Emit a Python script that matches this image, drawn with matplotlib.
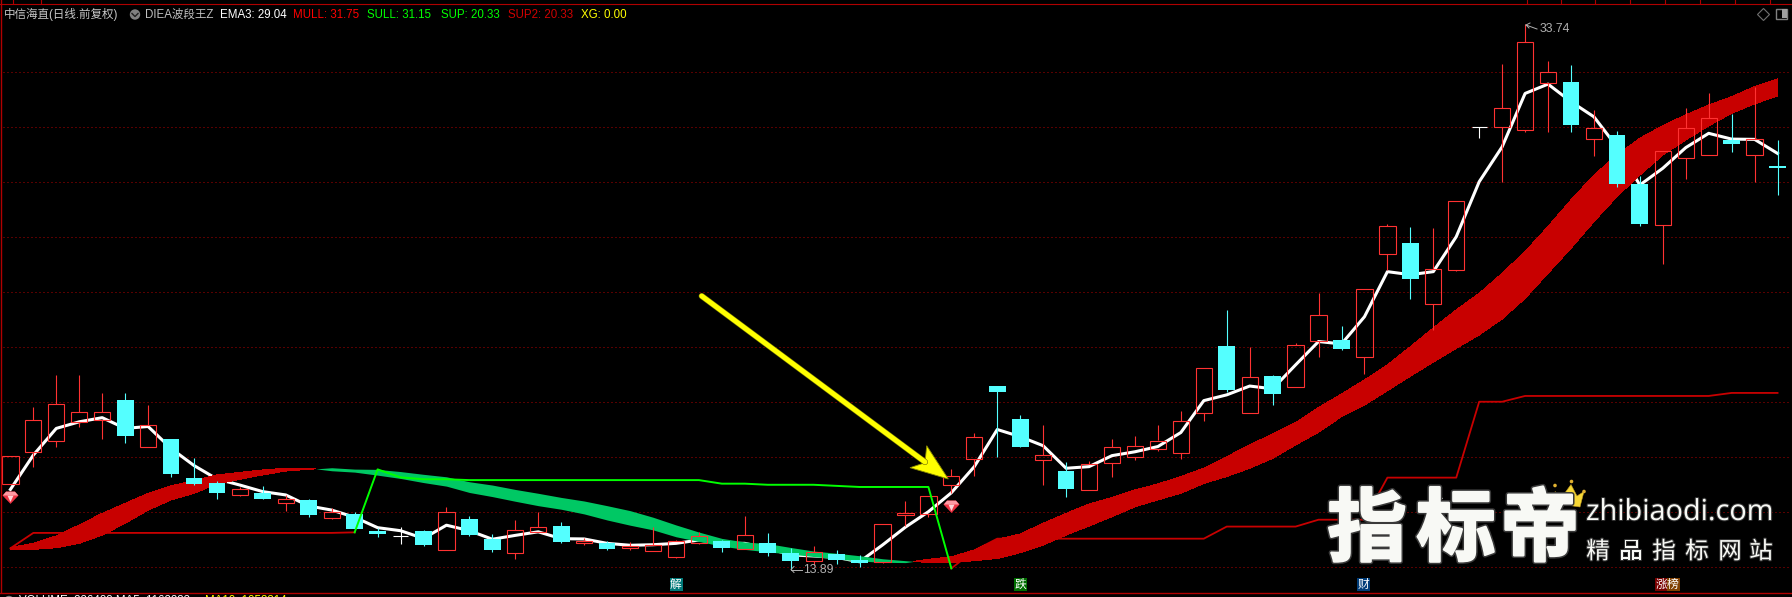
import matplotlib
matplotlib.use("Agg")
import matplotlib.pyplot as plt
import matplotlib.patheffects as pe
from matplotlib.path import Path
from matplotlib.patches import Polygon, Circle, Rectangle

plt.rcParams["font.family"] = ["Liberation Sans", "Noto Sans CJK SC", "DejaVu Sans"]

opens = [17.01, 18.17, 18.59, 19.26, 19.33, 20.07, 18.38, 18.65, 17.24, 17.05,
         16.63, 16.69, 16.31, 16.44, 15.79, 15.93, 15.31, 15.14, 15.31, 14.63,
         15.75, 15.02, 14.52, 15.28, 15.49, 14.87, 14.87, 14.69, 14.59, 14.38,
         14.88, 14.95, 14.67, 14.87, 14.51, 14.23, 14.47, 14.25, 14.19, 15.89,
         15.92, 16.97, 17.91, 20.58, 19.38, 17.90, 17.49, 16.81, 17.77, 18.01,
         18.28, 18.16, 19.59, 22.04, 19.59, 20.95, 20.56, 22.23, 22.26, 21.65,
         25.39, 25.78, 23.57, 24.81, 30.01, 29.99, 29.88, 31.61, 31.64, 29.58,
         29.71, 27.93, 26.45, 28.88, 28.99, 29.53, 28.99, 28.58]
closes = [18.05, 19.33, 19.92, 19.62, 19.62, 18.76, 19.15, 17.38, 17.02, 16.69,
          16.82, 16.47, 16.46, 15.89, 15.99, 15.38, 15.20, 15.14, 14.80, 15.99,
          15.16, 14.62, 15.33, 15.47, 14.91, 14.95, 14.65, 14.76, 14.79, 14.93,
          15.11, 14.69, 15.15, 14.51, 14.22, 14.53, 14.25, 14.15, 15.55, 15.96,
          16.57, 17.30, 18.71, 20.36, 18.36, 18.06, 16.84, 17.73, 18.35, 18.39,
          18.60, 19.30, 21.22, 20.44, 20.90, 20.29, 22.06, 23.15, 21.93, 24.10,
          26.39, 24.47, 24.82, 27.30, 30.01, 30.68, 33.08, 31.99, 30.07, 29.95,
          27.93, 26.47, 29.12, 29.95, 30.31, 29.38, 29.55, 28.52]
highs = [18.05, 19.82, 20.98, 20.98, 20.33, 20.33, 19.89, 18.65, 17.96, 17.13,
         16.92, 16.95, 16.62, 16.47, 16.15, 16.01, 15.42, 15.44, 15.35, 16.18,
         15.85, 15.20, 15.71, 16.01, 15.64, 15.04, 14.95, 14.91, 15.44, 14.98,
         15.28, 14.98, 15.85, 15.24, 14.69, 14.76, 14.62, 14.44, 15.55, 16.40,
         16.57, 17.56, 18.86, 20.58, 19.53, 19.16, 17.82, 17.84, 18.65, 18.76,
         19.16, 19.67, 21.22, 23.35, 22.00, 20.98, 22.13, 23.96, 22.76, 24.10,
         26.47, 26.35, 26.33, 27.30, 30.01, 32.29, 33.74, 32.40, 32.25, 30.62,
         29.85, 28.22, 29.12, 30.69, 31.24, 30.47, 31.47, 29.53]
lows = [17.01, 17.65, 18.36, 19.10, 18.67, 18.52, 18.38, 17.29, 16.98, 16.48,
        16.58, 16.47, 16.05, 15.83, 15.75, 15.38, 15.10, 14.84, 14.76, 14.63,
        15.13, 14.54, 14.30, 15.28, 14.87, 14.80, 14.62, 14.62, 14.59, 14.34,
        14.84, 14.55, 14.67, 14.40, 13.89, 14.07, 14.11, 14.00, 14.15, 15.49,
        15.81, 16.68, 17.32, 18.01, 18.36, 17.00, 16.55, 16.81, 17.27, 17.89,
        18.23, 17.93, 19.31, 20.36, 19.59, 19.89, 20.56, 21.65, 21.89, 21.02,
        24.80, 23.76, 22.62, 24.76, 29.61, 27.99, 29.83, 29.83, 29.83, 28.96,
        27.83, 26.40, 25.02, 28.11, 28.99, 29.09, 28.00, 27.53]
ema3 = [16.82, 18.07, 19.04, 19.28, 19.43, 19.04, 19.11, 18.31, 17.69, 17.20,
        16.98, 16.74, 16.62, 16.22, 16.07, 15.81, 15.43, 15.32, 15.04, 15.52,
        15.32, 15.01, 15.15, 15.28, 15.03, 15.02, 14.86, 14.79, 14.81, 14.86,
        14.98, 14.86, 14.86, 14.68, 14.44, 14.40, 14.35, 14.19, 14.80, 15.45,
        16.01, 16.70, 17.65, 19.00, 18.74, 18.41, 17.59, 17.65, 18.05, 18.19,
        18.38, 18.89, 20.05, 20.26, 20.58, 20.48, 21.35, 22.20, 22.11, 23.10,
        24.74, 24.63, 24.74, 26.01, 28.01, 29.28, 31.22, 31.56, 30.92, 30.37,
        29.28, 27.89, 28.50, 29.25, 29.77, 29.56, 29.55, 29.04]
mull = [14.71, 14.86, 15.13, 15.53, 15.95, 16.31, 16.68, 16.95, 17.14, 17.35,
        17.44, 17.53, 17.59, 17.60, 17.50, 17.45, 17.34, 17.22, 17.07, 16.94,
        16.71, 16.56, 16.39, 16.23, 16.10, 15.93, 15.71, 15.52, 15.35, 15.10,
        14.93, 14.76, 14.64, 14.55, 14.47, 14.38, 14.29, 14.22, 14.17, 14.16,
        14.28, 14.37, 14.62, 15.01, 15.20, 15.59, 15.95, 16.29, 16.53, 16.80,
        17.02, 17.29, 17.59, 18.01, 18.44, 18.84, 19.25, 19.80, 20.29, 20.80,
        21.35, 22.01, 22.69, 23.35, 23.95, 24.68, 25.47, 26.38, 27.35, 28.25,
        28.98, 29.59, 30.05, 30.44, 30.80, 31.10, 31.47, 31.75]
sull = [14.63, 14.64, 14.70, 14.86, 15.16, 15.59, 16.07, 16.44, 16.68, 17.02,
        17.19, 17.35, 17.49, 17.55, 17.61, 17.56, 17.55, 17.47, 17.37, 17.28,
        17.10, 16.98, 16.82, 16.68, 16.53, 16.40, 16.23, 16.05, 15.81, 15.53,
        15.27, 15.04, 14.91, 14.85, 14.71, 14.58, 14.50, 14.41, 14.30, 14.23,
        14.16, 14.16, 14.23, 14.31, 14.52, 14.80, 15.16, 15.49, 15.83, 16.19,
        16.44, 16.68, 17.04, 17.29, 17.59, 17.95, 18.44, 18.90, 19.47, 19.89,
        20.41, 20.94, 21.45, 21.95, 22.44, 23.02, 23.77, 24.68, 25.59, 26.56,
        27.47, 28.25, 28.98, 29.53, 30.04, 30.50, 30.84, 31.13]
sup = [14.68, 15.24, 15.24, 15.24, 15.24, 15.24, 15.24, 15.24, 15.24, 15.24,
       15.24, 15.24, 15.24, 15.24, 15.24, 15.26, 17.55, 17.26, 17.19, 17.19,
       17.16, 17.16, 17.16, 17.16, 17.16, 17.16, 17.16, 17.16, 17.16, 17.16,
       17.16, 17.03, 17.03, 16.99, 16.99, 16.99, 16.95, 16.91, 16.91, 16.91,
       16.91, 13.95, 14.60, 15.03, 15.03, 15.03, 15.03, 15.03, 15.03, 15.03,
       15.03, 15.03, 15.03, 15.47, 15.47, 15.47, 15.47, 15.72, 15.72, 15.72,
       17.25, 17.25, 17.25, 17.25, 20.01, 20.01, 20.22, 20.22, 20.22, 20.22,
       20.22, 20.22, 20.22, 20.22, 20.22, 20.33, 20.33, 20.33]
green_from = 15
green_to = 41

grid_levels = [14, 16, 18, 20, 22, 24, 26, 28, 30, 32]
signal_idx = [0, 41]
signal_price = [16.55, 16.23]

legend_items = [("中信海直(日线.前复权)", 4, "#c8c8c8"), ("DIEA波段王Z", 145, "#c0c0c0"),
                ("EMA3: 29.04", 220, "#ffffff"), ("MULL: 31.75", 293, "#ff0000"),
                ("SULL: 31.15", 367, "#00ff00"), ("SUP: 20.33", 441, "#00ff00"),
                ("SUP2: 20.33", 508, "#d00000"), ("XG: 0.00", 581, "#ffff00")]
news_tags = [("解", 676, "#007878"), ("跌", 1020, "#006e00"), ("财", 1363, "#003c78"),
             ("涨", 1661, "#780000"), ("榜", 1673, "#804000")]

RED = "#ff3232"
CYAN = "#54ffff"
BAND_RED = "#c80000"
FRAME = "#b00000"

fig = plt.figure(figsize=(17.92, 5.97), dpi=100, facecolor="black")
ax = fig.add_axes([0, 0, 1, 1], facecolor="black")
# chart scale: 2 price units = 55 px, candle pitch = 22.95 px
ax.set_xlim(-10.4 / 22.95, (1792 - 10.4) / 22.95)
ax.set_ylim(32 - (597 - 72) / 27.5, 32 + 72 / 27.5)
ax.axis("off")

xs = list(range(len(opens)))

for level in grid_levels:
    ax.plot([-0.33, 77.6], [level, level], color="#b00000", lw=0.72,
            linestyle=(0, (1, 3)), zorder=1)

ax.plot(xs, ema3, color="white", lw=2.2, zorder=2, solid_joinstyle="round")

ax.fill_between(xs, mull, sull, where=[m >= s for m, s in zip(mull, sull)], interpolate=True,
                color=BAND_RED, lw=0, antialiased=False, zorder=3)
ax.fill_between(xs, mull, sull, where=[m <= s for m, s in zip(mull, sull)], interpolate=True,
                color="#00c864", lw=0, antialiased=False, zorder=3)

for i in xs:
    o, c, h, l = opens[i], closes[i], highs[i], lows[i]
    top, bot = max(o, c), min(o, c)
    if c > o:
        ax.vlines(i, top, h, color=RED, lw=0.8, zorder=4, snap=True)
        ax.vlines(i, l, bot, color=RED, lw=0.8, zorder=4, snap=True)
        ax.bar(i, top - bot, bottom=bot, width=0.71, facecolor="none", edgecolor=RED, lw=0.8, zorder=4)
    elif c < o:
        ax.vlines(i, l, h, color=CYAN, lw=0.8, zorder=5, snap=True)
        ax.bar(i, top - bot, bottom=bot, width=0.73, color=CYAN, lw=0, zorder=5)
    else:
        ax.vlines(i, l, h, color="white", lw=0.8, zorder=5, snap=True)
        ax.hlines(c, i - 0.33, i + 0.33, color="white", lw=0.8, zorder=5, snap=True)

ax.plot(xs[:green_from + 1], sup[:green_from + 1], color=BAND_RED, lw=1.3, zorder=6)
ax.plot(xs[green_from:green_to + 1], sup[green_from:green_to + 1], color="#00ff00", lw=1.4, zorder=7)
ax.plot(xs[green_to:], sup[green_to:], color=BAND_RED, lw=1.3, zorder=3)

# gem signal marks
gem_body = Path([(-1, 0.25), (-0.55, 0.75), (0.55, 0.75), (1, 0.25), (0, -0.8), (-1, 0.25)])
gem_top = Path([(-0.95, 0.25), (-0.55, 0.72), (0.55, 0.72), (0.95, 0.25), (-0.95, 0.25)])
gem_core = Path([(-0.4, 0.25), (0.4, 0.25), (0, -0.6), (-0.4, 0.25)])
ax.plot(signal_idx, signal_price, ls="", marker=gem_body, ms=11.5, mfc="#ee3344", mew=0, zorder=8)
ax.plot(signal_idx, signal_price, ls="", marker=gem_top, ms=11, mfc="#ff9aa4", mew=0, zorder=8)
ax.plot(signal_idx, signal_price, ls="", marker=gem_core, ms=6.5, mfc="#ffd6da", mew=0, zorder=8)

# overlay in screen pixels for frame, labels, arrow and watermark
ov = fig.add_axes([0, 0, 1, 1], facecolor="none")
ov.set_xlim(0, 1792)
ov.set_ylim(597, 0)
ov.axis("off")

ov.plot([0.5, 0.5], [0, 592], color=FRAME, lw=1)
ov.plot([0, 1792], [3.5, 3.5], color=FRAME, lw=0.8)
ov.plot([0, 1792], [592.5, 592.5], color=FRAME, lw=1)
ov.plot([1791.5, 1791.5], [3, 592], color="#600000", lw=0.8)
for tx in [13, 41, 1527, 1561, 1595, 1630, 1665, 1700, 1735, 1770]:
    ov.plot([tx, tx], [0, 3], color=FRAME, lw=0.8)

for label, lx, col in legend_items:
    ov.text(lx, 14.5, label, color=col, fontsize=8.3, va="center", ha="left")
ov.add_patch(Circle((135, 14.5), 5.2, color="#808080", lw=0))
ov.plot([132, 135, 138], [13.5, 16.5, 13.5], color="#202020", lw=1)

# top right icons
ov.plot([1763], [13.5], marker="D", ms=6.5, mfc="none", mec="#707070", mew=0.8)
ov.add_patch(Rectangle((1776, 8.5), 11, 10, fc="none", ec="#808080", lw=1))
ov.add_patch(Rectangle((1781.5, 9), 5, 9, fc="#a0a0a0", ec="none"))

# extreme labels
ov.text(803, 570, "13.89", color="#b0b0b0", fontsize=8.8, va="center", ha="left")
ov.plot([791, 802], [569.5, 569.5], color="#b0b0b0", lw=0.7)
ov.plot([794, 791, 794], [566.5, 569.5, 572.5], color="#b0b0b0", lw=0.7)
ov.text(1540, 29.5, "33.74", color="#b0b0b0", fontsize=8.8, va="center", ha="left")
ov.plot([1526, 1537], [25, 29], color="#b0b0b0", lw=0.7)
ov.plot([1529, 1526, 1530], [28, 25, 23], color="#b0b0b0", lw=0.7)

for label, lx, col in news_tags:
    ov.add_patch(Rectangle((lx - 6.5, 578), 13, 13, color=col, lw=0))
    ov.text(lx, 584.5, label, color="white", fontsize=8.5, ha="center", va="center",
            family=["Noto Sans CJK SC"])

# cut off indicator row along the bottom edge
ov.add_patch(Circle((9, 601), 5.2, color="#808080", lw=0))
ov.text(19, 595, "VOLUME: 226488 MA5: 1162233", color="white", fontsize=8.3, va="top", ha="left")
ov.text(205, 595, "MA10: 1053314", color="#ffff00", fontsize=8.3, va="top", ha="left")

# yellow arrow
ov.plot([701.7, 925], [296, 462], color="#ffff00", lw=3.6, solid_capstyle="round",
        path_effects=[pe.withStroke(linewidth=4.4, foreground="#6a6a00")])
ov.add_patch(Polygon([(948.3, 479), (926.7, 445.7), (925, 462.7), (910, 467.7)], closed=True,
                     fc="#ffff00", ec="#8a8a00", lw=0.6))

# watermark
heavy = [pe.withStroke(linewidth=4, foreground="#3a3a3a"), pe.withStroke(linewidth=1.8, foreground="#f8f9f5")]
for ch, cx in zip("指标帝", [1367, 1456, 1540]):
    ov.text(cx, 531, ch, color="#f8f9f5", fontsize=57, ha="center", va="center", weight="bold",
            family=["Noto Sans CJK SC"], path_effects=heavy)
ov.add_patch(Polygon([(1435, 485.5), (1428, 499), (1432.5, 499), (1432.5, 510), (1438, 510),
                      (1438, 499), (1443, 499)], closed=True, fc="#f8f9f5", ec="none"))
ov.add_patch(Polygon([(1555, 491.5), (1562, 497), (1571, 484.5), (1577, 496), (1584, 491.5),
                      (1580, 507), (1559, 504)], closed=True, fc="#f6d836", ec="#c09a20", lw=0.4))
for dx, dy in [(1555, 485.5), (1571.5, 481.5), (1584, 491.5)]:
    ov.add_patch(Circle((dx, dy), 1.8, color="#e0b030", lw=0))
ov.text(1680, 520, "zhibiaodi.com", color="#f8f9f5", fontsize=20.8, ha="center", va="baseline",
        family=["Open Sans"], path_effects=[pe.withStroke(linewidth=1.5, foreground="#333333")])
for ch, cx in zip("精品指标网站", [1598, 1631, 1664, 1697, 1730, 1761]):
    ov.text(cx, 552, ch, color="#f8f9f5", fontsize=17, ha="center", va="center",
            family=["Noto Sans CJK SC"], path_effects=[pe.withStroke(linewidth=1.5, foreground="#333333")])

fig.savefig("out.png", dpi=100, facecolor="black")
